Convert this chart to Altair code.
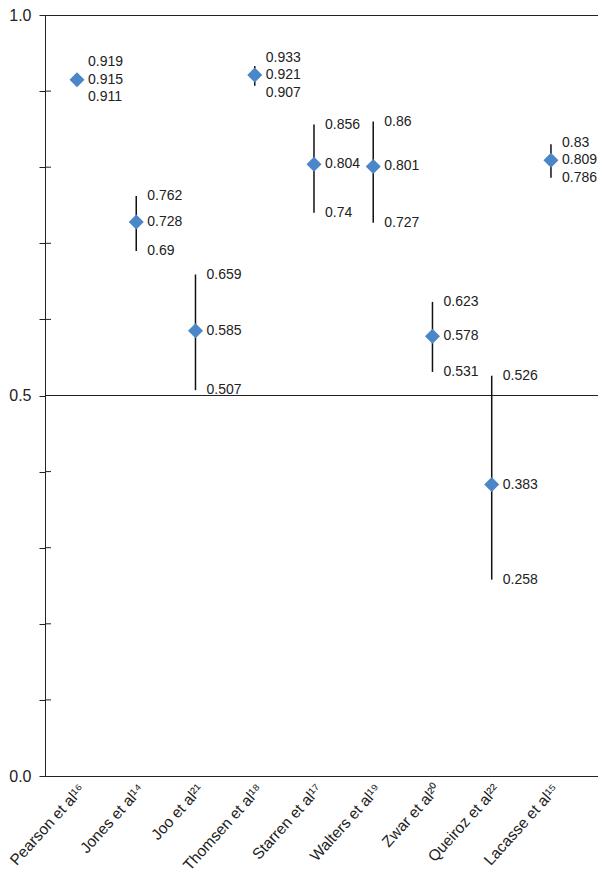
import altair as alt
import pandas as pd

authors = ["Pearson et al", "Jones et al", "Joo et al", "Thomsen et al", "Starren et al",
           "Walters et al", "Zwar et al", "Queiroz et al", "Lacasse et al"]
refs = ["16", "14", "21", "18", "17", "19", "20", "22", "15"]
point = [0.915, 0.728, 0.585, 0.921, 0.804, 0.801, 0.578, 0.383, 0.809]
upper = [0.919, 0.762, 0.659, 0.933, 0.856, 0.86, 0.623, 0.526, 0.83]
lower = [0.911, 0.69, 0.507, 0.907, 0.74, 0.727, 0.531, 0.258, 0.786]
y_ticks = [round(i / 10, 1) for i in range(11)]

SUP = str.maketrans("0123456789", "⁰¹²³⁴⁵⁶⁷⁸⁹")
labels = [a + r.translate(SUP) for a, r in zip(authors, refs)]

gap = 0.023
df = pd.DataFrame({
    "study": labels,
    "point": point,
    "upper": upper,
    "lower": lower,
    "pt_lab": [str(v) for v in point],
    "up_lab": [str(v) for v in upper],
    "lo_lab": [str(v) for v in lower],
    "up_y": [max(u, p + gap) for u, p in zip(upper, point)],
    "lo_y": [min(l, p - gap) for l, p in zip(lower, point)],
})
ticks_df = pd.DataFrame({"t": [t for t in y_ticks if 0 < t < 1]})
half_df = pd.DataFrame({"h": [0.5]})

FONT = "Liberation Sans"
xscale = alt.Scale(paddingInner=0, paddingOuter=0.167, align=0.12)
xenc = alt.X("study:N", sort=labels, scale=xscale,
             axis=alt.Axis(title=None, labelAngle=-48, labelAlign="right", labelBaseline="middle",
                           ticks=False, labelPadding=10, labelOffset=5, labelFontSize=15.5, labelFont=FONT,
                           labelColor="#222", domain=False))
xsimple = alt.X("study:N", sort=labels)
yscale = alt.Scale(domain=[0, 1], nice=False, zero=True)
yaxis = alt.Axis(title=None, values=y_ticks, grid=False, tickSize=6, tickColor="#222",
                 domainColor="#222", labelFontSize=16, labelFont=FONT, labelColor="#222",
                 labelPadding=8, tickWidth=1,
                 labelExpr="(datum.value == 0 || datum.value == 0.5 || datum.value == 1) ? format(datum.value, '.1f') : ''")

base = alt.Chart(df)

bars = base.mark_rule(color="#111", strokeWidth=1.5).encode(
    x=xenc, y=alt.Y("lower:Q", scale=yscale, axis=yaxis), y2="upper:Q")
pts = base.mark_point(shape="diamond", filled=True, size=225, color="#4a86c8", opacity=1).encode(
    x=xsimple, y="point:Q")
txt_kw = dict(align="left", baseline="middle", dx=11, fontSize=14, font=FONT, color="#222")
t_pt = base.mark_text(**txt_kw).encode(x=xsimple, y="point:Q", text="pt_lab:N")
t_up = base.mark_text(**txt_kw).encode(x=xsimple, y="up_y:Q", text="up_lab:N")
t_lo = base.mark_text(**txt_kw).encode(x=xsimple, y="lo_y:Q", text="lo_lab:N")

inner_ticks = alt.Chart(ticks_df).mark_rule(color="#222", strokeWidth=1).encode(
    y="t:Q", x=alt.value(0), x2=alt.value(6))
half = alt.Chart(half_df).mark_rule(color="#222", strokeWidth=1.2).encode(y="h:Q")

chart = alt.layer(half, inner_ticks, bars, pts, t_pt, t_up, t_lo).properties(
    width=553, height=761,
    autosize=alt.AutoSizeParams(type="none"),
    padding={"left": 37, "top": 7, "right": 0, "bottom": 95},
    background="white",
).configure_view(stroke="#222", strokeWidth=1)

chart.save("out.html", embed_options={"renderer": "svg", "actions": False})
